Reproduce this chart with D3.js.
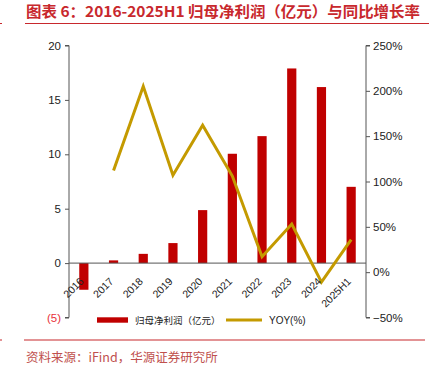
<!DOCTYPE html>
<html><head><meta charset="utf-8">
<script src="https://cdn.jsdelivr.net/npm/d3@7"></script>
<style>body{margin:0;background:#fff}svg{display:block}</style>
</head><body>
<svg id="c" width="429" height="372"></svg>
<script>
const categories = ["2016","2017","2018","2019","2020","2021","2022","2023","2024","2025H1"];
const profit = [-2.45, 0.25, 0.85, 1.84, 4.87, 10.05, 11.67, 17.89, 16.18, 7.01];
const yoy = [null, 112, 205, 107, 162, 106, 17, 53, -11, 36];
const leftTicks = [-5, 0, 5, 10, 15, 20];
const rightTicks = [-50, 0, 50, 100, 150, 200, 250];
const titleText = "图表 6：2016-2025H1 归母净利润（亿元）与同比增长率";
const sourceText = "资料来源：iFind，华源证券研究所";
const legendLabels = ["归母净利润（亿元）", "YOY(%)"];

const svg = d3.select("#c");
const red = "#C00000", gold = "#C49A00", titleRed = "#C8282D";
const axisColor = "#555";
const xL = 69, xR = 366;

const x = d3.scaleBand().domain(categories).range([xL, xR]).paddingInner(0.69).paddingOuter(0.345);
const yL = d3.scaleLinear().domain([-5, 20]).range([317.5, 45.5]);
const yR = d3.scaleLinear().domain([-50, 250]).range([317.5, 45.5]);

// title
svg.append("text").attr("x", 26).attr("y", 17).attr("fill", titleRed)
  .attr("font-family", "'Noto Sans CJK SC'").attr("font-weight", "bold").attr("font-size", 15)
  .attr("textLength", 394).attr("lengthAdjust", "spacingAndGlyphs").text(titleText);
svg.append("line").attr("x1", 25).attr("x2", 429).attr("y1", 23.5).attr("y2", 23.5).attr("stroke", titleRed).attr("stroke-width", 1.2);
svg.append("line").attr("x1", 0).attr("x2", 2).attr("y1", 23.5).attr("y2", 23.5).attr("stroke", titleRed).attr("stroke-width", 1.2);

// bars
svg.append("g").selectAll("rect").data(categories).join("rect")
  .attr("x", d => x(d)).attr("width", x.bandwidth())
  .attr("y", (d, i) => yL(Math.max(0, profit[i])))
  .attr("height", (d, i) => Math.abs(yL(profit[i]) - yL(0)))
  .attr("fill", red);

// baseline
svg.append("line").attr("x1", xL).attr("x2", xR).attr("y1", yL(0)).attr("y2", yL(0)).attr("stroke", axisColor).attr("stroke-width", 1);

// left axis
const gl = svg.append("g").attr("transform", `translate(${xL},0)`)
  .call(d3.axisLeft(yL).tickValues(leftTicks).tickSize(4).tickPadding(4)
    .tickFormat(d => d < 0 ? `(${Math.abs(d)})` : d));
gl.select(".domain").attr("stroke", axisColor).attr("d", `M-4,${yL(20)}H0V${yL(-5)}H-4`);
gl.selectAll(".tick line").attr("stroke", axisColor);
gl.selectAll(".tick text").attr("font-family", "'Liberation Sans', Arial").attr("font-size", 11.5)
  .attr("fill", d => d < 0 ? "#e8303a" : "#222");

// right axis
const gr = svg.append("g").attr("transform", `translate(${xR},0)`)
  .call(d3.axisRight(yR).tickValues(rightTicks).tickSize(4).tickPadding(3)
    .tickFormat(d => (d < 0 ? "\u2212" + Math.abs(d) : d) + "%"));
gr.select(".domain").attr("stroke", axisColor).attr("d", `M4,${yR(250)}H0V${yR(-50)}H4`);
gr.selectAll(".tick line").attr("stroke", axisColor);
gr.selectAll(".tick text").attr("font-family", "'Liberation Sans', Arial").attr("font-size", 11.5).attr("fill", "#222");

// line
const pts = categories.map((c, i) => [x(c) + x.bandwidth() / 2, yoy[i]]).filter(p => p[1] !== null);
svg.append("path").datum(pts)
  .attr("d", d3.line().x(p => p[0]).y(p => yR(p[1])))
  .attr("fill", "none").attr("stroke", gold).attr("stroke-width", 3).attr("stroke-linejoin", "miter");

// x labels
svg.append("g").selectAll("text").data(categories).join("text")
  .attr("transform", d => `translate(${x(d) + x.bandwidth() / 2 + 0.5},${yL(0) + 19}) rotate(-45)`)
  .attr("text-anchor", "end").attr("font-family", "'Liberation Sans', Arial").attr("font-size", 10.5)
  .attr("fill", "#222").text(d => d);

// legend
const ly = 320;
svg.append("rect").attr("x", 97).attr("y", ly - 2.7).attr("width", 31).attr("height", 5.4).attr("fill", red);
svg.append("text").attr("x", 135).attr("y", ly + 3.5).attr("font-family", "'Noto Sans CJK SC'").attr("font-size", 9.5)
  .attr("fill", "#222").text(legendLabels[0]);
svg.append("line").attr("x1", 226).attr("x2", 262).attr("y1", ly).attr("y2", ly).attr("stroke", gold).attr("stroke-width", 3);
svg.append("text").attr("x", 269).attr("y", ly + 3.5).attr("font-family", "'Liberation Sans', Arial").attr("font-size", 10)
  .attr("fill", "#222").text(legendLabels[1]);

// footer
svg.append("line").attr("x1", 24).attr("x2", 425).attr("y1", 340).attr("y2", 340).attr("stroke", titleRed).attr("stroke-width", 1.2);
svg.append("line").attr("x1", 0).attr("x2", 2).attr("y1", 340).attr("y2", 340).attr("stroke", titleRed).attr("stroke-width", 1.2);
svg.append("text").attr("x", 26).attr("y", 362).attr("fill", "#C0504D")
  .attr("font-family", "'Noto Sans CJK SC'").attr("font-size", 12.5).text(sourceText);
</script>
</body></html>
